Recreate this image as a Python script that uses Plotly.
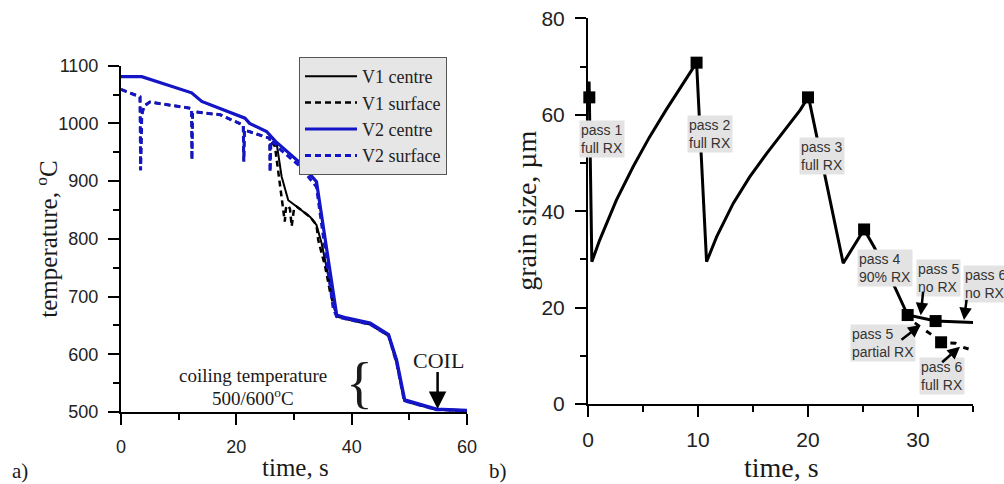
import plotly.graph_objects as go

W, H = 1004, 484

# ---------------- data: panel a) temperature ----------------
v2c_t = [0, 3.6, 12.25, 14.0, 21.5, 22.3, 25.25, 27.0, 31.0, 33.9, 37.4, 39.1, 43.2, 46.4, 47.8, 49.0, 49.2, 54.7, 60]
v2c_T = [1081, 1081, 1053, 1038, 1009, 1000, 986, 967, 932, 899, 668, 663, 654, 634, 590, 527, 521, 505, 503]

v2s_t = [0, 3.3, 3.4, 3.6, 4.0, 5.0, 12.25, 12.3, 12.4, 12.8, 17.2, 21.2, 21.3, 21.4, 21.6, 25.8, 25.85, 26.0,
         27.0, 27.6, 31.0, 33.9, 36.8, 37.4, 39.1, 43.2, 46.4, 47.8, 49.0, 49.2, 54.7, 60]
v2s_T = [1059, 1046, 919, 1015, 1030, 1037, 1026, 937, 1018, 1020, 1015, 997, 934, 989, 988, 974, 916, 970,
         963, 955, 926, 890, 680, 665, 661, 652, 632, 585, 525, 519, 504, 502]

v1c_t = [0, 3.6, 12.25, 14.0, 21.5, 22.3, 25.25, 27.0, 27.85, 29.0, 30.45, 32.8, 33.9, 34.8, 36.2, 37.1, 37.4, 39.1,
         43.2, 46.4, 47.8, 49.0, 49.2, 54.7, 60]
v1c_T = [1081, 1081, 1053, 1038, 1009, 1000, 986, 965, 908, 867, 856, 838, 824, 792, 723, 677, 668, 663,
         654, 634, 590, 527, 521, 505, 503]

v1s_t = [0, 3.3, 3.4, 3.6, 4.0, 5.0, 12.25, 12.3, 12.4, 12.8, 17.2, 21.2, 21.3, 21.4, 21.6, 25.8, 25.85, 26.0,
         26.7, 27.3, 27.9, 28.4, 28.6, 29.0, 29.3, 29.6, 30.0, 30.45, 32.8, 33.9, 34.2, 35.4, 36.3, 37.0, 37.4, 39.1,
         43.2, 46.4, 47.8, 49.0, 49.2, 54.7, 60]
v1s_T = [1059, 1046, 919, 1015, 1030, 1037, 1026, 937, 1018, 1020, 1015, 997, 934, 989, 988, 974, 916, 970,
         960, 914, 874, 830, 853, 858, 852, 822, 852, 856, 838, 824, 798, 752, 706, 677, 666, 661,
         652, 632, 585, 525, 519, 504, 502]

# ---------------- data: panel b) grain size ----------------
grain_t = [0.1, 0.35, 1.06, 2.58, 4.1, 5.6, 7.1, 8.65, 9.87, 10.78, 11.7, 13.2, 14.7, 16.25, 17.8, 19.3, 20.04,
           23.2, 25.1, 26.0, 27.6, 29.06, 31.6, 35.07]
grain_d = [66.9, 29.5, 34.0, 42.3, 49.2, 55.4, 61.0, 66.5, 70.8, 29.5, 34.7, 41.6, 47.1, 52.0, 56.5, 61.0, 63.75,
           29.2, 36.2, 32.6, 25.7, 18.45, 17.2, 16.9]

partial_t = [29.7, 30.3, 31.1, 31.6, 32.1, 33.4, 33.9, 34.6]
partial_d = [16.8, 15.9, 14.6, 13.8, 12.8, 12.6, 11.9, 11.4]

pass_t = [0.12, 9.87, 20.0, 25.1, 29.06, 31.6, 32.1]
pass_d = [63.6, 70.8, 63.6, 36.2, 18.45, 17.2, 12.8]

BLUE = '#1515c8'
SERIF = 'Liberation Serif, Times New Roman, serif'
SANS = 'Liberation Sans, Arial, sans-serif'

fig = go.Figure()

fig.add_trace(go.Scatter(x=v1s_t, y=v1s_T, mode='lines', name='V1 surface', legendrank=2,
                         line=dict(color='black', width=2.5, dash='6px,4px'), xaxis='x', yaxis='y'))
fig.add_trace(go.Scatter(x=v1c_t, y=v1c_T, mode='lines', name='V1 centre', legendrank=1,
                         line=dict(color='black', width=2), xaxis='x', yaxis='y'))
fig.add_trace(go.Scatter(x=v2c_t, y=v2c_T, mode='lines', name='V2 centre', legendrank=3,
                         line=dict(color=BLUE, width=3.2), xaxis='x', yaxis='y'))
fig.add_trace(go.Scatter(x=v2s_t, y=v2s_T, mode='lines', name='V2 surface', legendrank=4,
                         line=dict(color=BLUE, width=3, dash='6px,4px'), xaxis='x', yaxis='y'))

fig.add_trace(go.Scatter(x=grain_t, y=grain_d, mode='lines', showlegend=False,
                         line=dict(color='black', width=3), xaxis='x2', yaxis='y2'))
fig.add_trace(go.Scatter(x=partial_t, y=partial_d, mode='lines', showlegend=False,
                         line=dict(color='black', width=3, dash='6px,8px'), xaxis='x2', yaxis='y2'))
fig.add_trace(go.Scatter(x=pass_t, y=pass_d, mode='markers', showlegend=False,
                         marker=dict(symbol='square', size=12, color='black'), xaxis='x2', yaxis='y2',
                         cliponaxis=False))


def px(x):
    return x / W


def py(y):
    return 1 - y / H


axis_common = dict(showgrid=False, zeroline=False, showline=True, linewidth=2, linecolor='black',
                   ticks='outside', ticklen=11, tickwidth=2, tickcolor='black', automargin=False,
                   fixedrange=True)

fig.update_layout(
    width=W, height=H,
    margin=dict(l=0, r=0, t=0, b=0),
    paper_bgcolor='white', plot_bgcolor='white',
    showlegend=True,
    legend=dict(x=px(299), y=py(57), xanchor='left', yanchor='top',
                bgcolor='#e6e6e6', bordercolor='#555555', borderwidth=1,
                font=dict(family=SERIF, size=18, color='#222'), itemwidth=52,
                tracegroupgap=0),
    xaxis=dict(domain=[px(121), px(467)], range=[0, 60], dtick=20, anchor='y',
               tickfont=dict(family=SANS, size=18, color='#222'),
               minor=dict(dtick=10, ticklen=6, tickwidth=2, tickcolor='black', ticks='outside'),
               ticklabelstandoff=6, **axis_common),
    yaxis=dict(domain=[py(412), py(65.7)], range=[500, 1100], dtick=100, anchor='x',
               tickfont=dict(family=SANS, size=18, color='#222'),
               minor=dict(dtick=50, ticklen=6, tickwidth=2, tickcolor='black', ticks='outside'),
               ticklabelstandoff=6, **axis_common),
    xaxis2=dict(domain=[px(588), px(973)], range=[0, 35], dtick=10, anchor='y2',
                tickfont=dict(family=SANS, size=21, color='#222'),
                minor=dict(dtick=5, ticklen=6, tickwidth=2, tickcolor='black', ticks='outside'),
                ticklabelstandoff=5, **axis_common),
    yaxis2=dict(domain=[py(404), py(18.3)], range=[0, 80], dtick=20, anchor='x2',
                tickfont=dict(family=SANS, size=21, color='#222'),
                minor=dict(dtick=10, ticklen=6, tickwidth=2, tickcolor='black', ticks='outside'),
                ticklabelstandoff=6, **axis_common),
)

ann = []


def text_ann(x, y, text, size, family=SERIF, angle=0, **kw):
    d = dict(x=px(x), y=py(y), xref='paper', yref='paper', text=text, showarrow=False,
             font=dict(family=family, size=size, color='#1a1a1a'), textangle=angle,
             xanchor='center', yanchor='middle')
    d.update(kw)
    ann.append(d)


# axis titles
text_ann(46.7, 239, 'temperature, <sup>o</sup>C', 25, angle=-90)
text_ann(295, 467, 'time, s', 25)
text_ann(526.7, 211, 'grain size, µm', 28, angle=-90)
text_ann(781, 467, 'time, s', 28)
text_ann(20, 471, 'a)', 21)
text_ann(498, 471, 'b)', 21)

# panel a extra texts
text_ann(253, 375, 'coiling temperature', 19)
text_ann(253, 397, '500/600<sup>o</sup>C', 19)
text_ann(359, 383, '{', 56)
text_ann(438, 360, 'COIL', 22)
ann.append(dict(x=54.9, y=505, xref='x', yref='y', ax=54.9, ay=572, axref='x', ayref='y',
                text='', showarrow=True, arrowhead=2, arrowsize=1.4, arrowwidth=2.5, arrowcolor='black'))

# panel b labels
GREY = '#e3e3e3'


def label(x, y, text, xanchor='center'):
    ann.append(dict(x=px(x), y=py(y), xref='paper', yref='paper', text=text, showarrow=False,
                    font=dict(family=SANS, size=14, color='#333'), bgcolor=GREY,
                    xanchor=xanchor, yanchor='middle', align='left', borderpad=1))


label(602, 139, 'pass 1<br>full RX')
label(709.5, 134, 'pass 2<br>full RX')
label(821.5, 156, 'pass 3<br>full RX')
label(885, 267.5, 'pass 4<br>90% RX')
label(938.5, 277.5, 'pass 5<br>no RX')
label(963, 284, 'pass 6<br>no RX', xanchor='left')
label(882.5, 343, 'pass 5<br>partial RX')
label(942, 376, 'pass 6<br>full RX')

arrows = [
    (30.25, 18.4, 30.48, 23.6),
    (34.18, 17.4, 34.43, 21.9),
    (30.24, 16.4, 28.36, 13.1),
    (33.82, 11.9, 32.06, 8.4),
]
for hx, hy, tx, ty in arrows:
    ann.append(dict(x=hx, y=hy, xref='x2', yref='y2', ax=tx, ay=ty, axref='x2', ayref='y2',
                    text='', showarrow=True, arrowhead=2, arrowsize=1, arrowwidth=2.5, arrowcolor='black'))

fig.update_layout(annotations=ann)

fig.write_html('out.html', config={'displayModeBar': False},
               post_script="document.body.style.margin='0px';document.body.style.overflow='hidden';")
